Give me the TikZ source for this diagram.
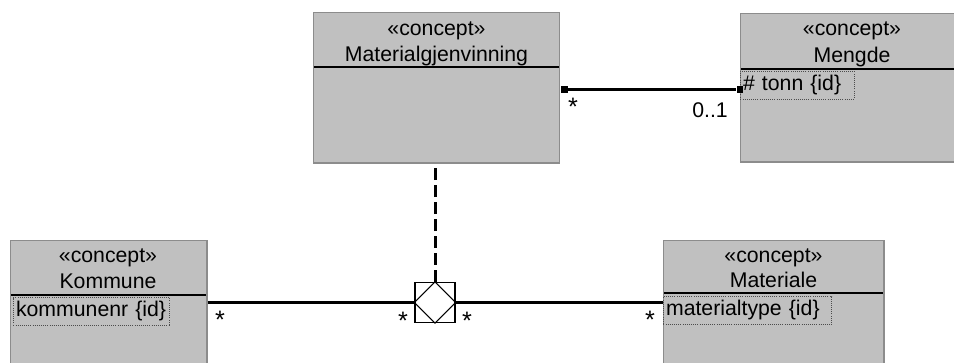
\documentclass[tikz,border=0pt]{standalone}
\usepackage{fontspec}
\setmainfont{Liberation Sans}
\definecolor{rosegray}{HTML}{C0C0C0}
\definecolor{rim}{HTML}{8C8C8C}
\newcommand\umlfont{\fontsize{16}{19}\selectfont}
\newcommand\multfont{\fontsize{19}{19}\selectfont}
\begin{document}
\begin{tikzpicture}[scale=0.26458,
		clsbox/.style={fill=rosegray, draw=rim, line width=1pt, anchor=north west},
		attr/.style={draw=black!70, densely dotted, line width=0.6pt, anchor=west, inner xsep=2pt, inner ysep=0pt, minimum height=21pt, align=left},
		endsq/.style={fill=black, minimum size=5pt},
		assoc/.style={line width=2.25pt},
		sep/.style={line width=1.1pt},
		mult/.style={font=\multfont}]
		\tikzstyle{every node}+=[inner sep=0pt, font=\umlfont]
		\useasboundingbox (0,0) rectangle (95.4,-36.3);
		\clip (0,0) rectangle (95.4,-36.3);
		% classes
		\node [clsbox, minimum width=185.25pt, minimum height=113.25pt] (gjenv) at (31.3,-1.2) {};
		\node [clsbox, minimum width=168pt, minimum height=111.75pt] (mengde) at (74.0,-1.3) {};
		\node [clsbox, minimum width=147.75pt, minimum height=113.25pt] (kommune) at (1.0,-24.0) {};
		\node [clsbox, minimum width=165.75pt, minimum height=113.25pt] (materiale) at (66.3,-24.0) {};
		\draw [sep] (31.4,-6.7) -- (55.9,-6.7);
		\draw [sep] (74.1,-6.9) -- (95.4,-6.9);
		\draw [sep] (1.1,-29.5) -- (20.6,-29.5);
		\draw [sep] (66.4,-29.3) -- (88.3,-29.3);
		\node [anchor=base] (gjenvSt) at (43.65,-3.55) {«concept»};
		\node [anchor=base] (gjenvNm) at (43.65,-6.2) {Materialgjenvinning};
		\node [anchor=base] (mengdeSt) at (85.2,-3.6) {«concept»};
		\node [anchor=base] (mengdeNm) at (85.2,-6.3) {Mengde};
		\node [anchor=base] (kommuneSt) at (10.8,-26.3) {«concept»};
		\node [anchor=base] (kommuneNm) at (10.8,-28.9) {Kommune};
		\node [anchor=base] (materialeSt) at (77.35,-26.3) {«concept»};
		\node [anchor=base] (materialeNm) at (77.35,-28.8) {Materiale};
		% attributes
		\node [attr, text width=81.5pt] (tonn) at (74.0,-8.5) {\# tonn \{id\}};
		\node [attr, text width=113.75pt] (kommunenr) at (1.3,-31.15) {kommunenr \{id\}};
		\node [attr, text width=122.75pt] (materialtype) at (66.3,-31.05) {materialtype \{id\}};
		% binary association
		\node [endsq] (gjenvEnd) at (56.45,-8.95) {};
		\node [endsq] (mengdeEnd) at (74.0,-8.95) {};
		\draw [assoc] (gjenvEnd) -- (mengdeEnd);
		\node [mult] (multA) at (57.3,-10.7) {*};
		\node (multB) at (71.0,-11.0) {0..1};
		% n-ary association
		\node [draw, line width=1.1pt, minimum size=30pt] (dia) at (43.5,-30.25) {};
		\draw [line width=0.8pt] (dia.north) -- (dia.east) -- (dia.south) -- (dia.west) -- cycle;
		\draw [assoc, dash pattern=on 9pt off 3.75pt] (dia.north) -- (dia.north |- gjenv.south);
		\draw [assoc] (kommune.east |- dia.west) -- (dia.west);
		\draw [assoc] (dia.east) -- (materiale.west |- dia.east);
		\node [mult] (multC) at (22.0,-32.0) {*};
		\node [mult] (multD) at (40.3,-32.1) {*};
		\node [mult] (multE) at (46.7,-32.1) {*};
		\node [mult] (multF) at (65.0,-32.0) {*};
		\end{tikzpicture}
\end{document}
